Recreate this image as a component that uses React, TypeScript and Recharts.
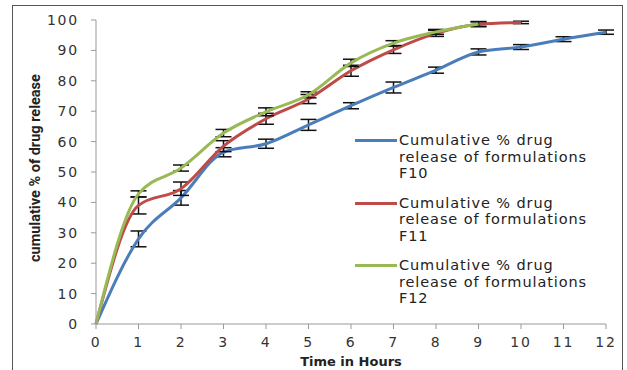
import React from 'react';
import { LineChart, Line, XAxis, YAxis, Legend, ErrorBar } from 'recharts';

// ─── Data ────────────────────────────────────────────────────────────
const hours = [0, 1, 2, 3, 4, 5, 6, 7, 8, 9, 10, 11, 12];
const f10 = [0, 28, 41.5, 56.5, 59.3, 65.5, 71.8, 77.8, 83.5, 89.5, 91.1, 93.7, 96];
const f10Err = [0, 2.6, 2.4, 1.5, 1.5, 1.8, 1, 1.8, 1, 1, 0.8, 0.8, 0.7];
const f11 = [0, 39, 44.5, 58.5, 67.5, 74, 83.3, 90.2, 95.6, 98.6, 99.2, null, null];
const f11Err = [0, 2.8, 2.2, 1.8, 1.8, 1.5, 1.8, 1.2, 1, 0.8, 0.4, 0, 0];
const f12 = [0, 42.8, 51.3, 62.8, 69.8, 75.4, 85.9, 92.4, 96.1, 98.7, null, null, null];
const f12Err = [0, 1, 1, 1.2, 1.3, 1, 1.2, 0.8, 0.8, 0.8, 0, 0, 0];
const yTicks = [0, 10, 20, 30, 40, 50, 60, 70, 80, 90, 100];

const series = [
  { key: 'f10', err: 'f10Err', color: '#4a7ebb', name: 'F10' },
  { key: 'f11', err: 'f11Err', color: '#be4b48', name: 'F11' },
  { key: 'f12', err: 'f12Err', color: '#98b954', name: 'F12' },
];

const data = hours.map((h, i) => ({
  hour: h,
  f10: f10[i],
  f10Err: f10Err[i],
  f11: f11[i],
  f11Err: f11Err[i],
  f12: f12[i],
  f12Err: f12Err[i],
}));

const tickStyle = { fontSize: 14, fill: '#333', fontFamily: 'DejaVu Sans', letterSpacing: 1.8 };

function LegendBox() {
  return (
    <div style={{ fontFamily: 'DejaVu Sans', fontSize: 14.5, letterSpacing: 0.9, color: '#222', lineHeight: '16.5px' }}>
      {series.map(s => (
        <div key={s.key} style={{ display: 'flex', alignItems: 'flex-start', marginBottom: 13 }}>
          <div style={{ width: 42, height: 3, background: s.color, marginTop: 7, marginRight: 2 }} />
          <div style={{ whiteSpace: 'nowrap' }}>
            Cumulative % drug<br />release of formulations<br />{s.name}
          </div>
        </div>
      ))}
    </div>
  );
}

export default function App() {
  return (
    <div style={{ position: 'absolute', left: 0, top: 0, width: 627, height: 370, background: '#fff' }}>
      <div
        style={{
          position: 'absolute', left: 12, top: 5, width: 611, height: 366,
          border: '1.5px solid #555', boxSizing: 'border-box',
        }}
      />
      <LineChart width={627} height={370} data={data} margin={{ top: 20, right: 21, left: 36, bottom: 16 }}>
        <XAxis
          dataKey="hour"
          type="number"
          domain={[0, 12]}
          ticks={hours}
          interval={0}
          tick={tickStyle}
          stroke="#999"
          tickSize={5}
          tickMargin={8}
          height={30}
          label={{ value: 'Time in Hours', position: 'insideBottom', offset: -12, style: { fontFamily: 'DejaVu Sans', fontWeight: 'bold', fontSize: 13, fill: '#222' } }}
        />
        <YAxis
          type="number"
          domain={[0, 100]}
          ticks={yTicks}
          interval={0}
          tick={tickStyle}
          stroke="#999"
          tickSize={5}
          tickMargin={12}
          width={60}
          label={{ value: 'cumulative % of drug release', angle: -90, position: 'insideLeft', offset: -1, dy: 90, style: { fontFamily: 'Liberation Sans Narrow, Roboto', fontWeight: 'bold', fontSize: 14.5, fill: '#222' } }}
        />
        <Legend
          layout="vertical"
          align="center"
          verticalAlign="middle"
          wrapperStyle={{ left: 355, top: 132, width: 260 }}
          content={<LegendBox />}
        />
        {series.map(s => (
          <Line
            key={s.key}
            dataKey={s.key}
            name={s.name}
            type="monotone"
            stroke={s.color}
            strokeWidth={3}
            dot={false}
            activeDot={false}
            connectNulls={false}
            isAnimationActive={false}
          >
            <ErrorBar dataKey={s.err} width={8} stroke="#111" strokeWidth={1.5} direction="y" />
          </Line>
        ))}
      </LineChart>
    </div>
  );
}
